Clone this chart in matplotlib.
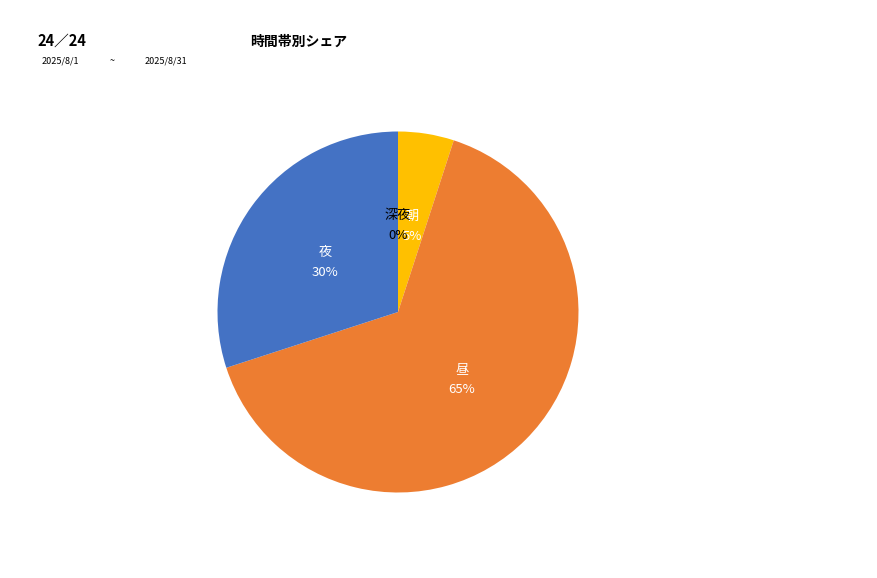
import matplotlib.pyplot as plt

plt.rcParams['font.family'] = ['Noto Sans CJK JP', 'DejaVu Sans']

# 時間帯別の割合
names = ['朝', '昼', '夜', '深夜']
shares = [5, 65, 30, 0]
colors = ['#FFC000', '#ED7D31', '#4472C4', '#A5A5A5']
text_colors = ['white', 'white', 'white', 'black']

fig = plt.figure(figsize=(8.77, 5.78), dpi=100)

# 見出し
fig.text(37 / 877, 1 - 41 / 578, '24／24', fontsize=10.5, fontweight='bold', va='center')
fig.text(250 / 877, 1 - 42 / 578, '時間帯別シェア', fontsize=10, fontweight='bold', va='center')
fig.text(42 / 877, 1 - 61 / 578, '2025/8/1', fontsize=6.5, va='center')
fig.text(110 / 877, 1 - 61 / 578, '~', fontsize=6.5, va='center')
fig.text(145 / 877, 1 - 61 / 578, '2025/8/31', fontsize=6.5, va='center')

cx, cy, r = 398, 312, 180.5
ax = fig.add_axes([(cx - r) / 877, (578 - cy - r) / 578, 2 * r / 877, 2 * r / 578])

labels = [f'{n}\n{s}%' for n, s in zip(names, shares)]
wedges, texts = ax.pie(shares, labels=labels, colors=colors, startangle=90,
                       counterclock=False, labeldistance=0.5,
                       textprops={'fontsize': 9.5, 'linespacing': 1.65})
for t, c in zip(texts, text_colors):
    t.set_ha('center')
    t.set_va('center')
    t.set_color(c)
    x, y = t.get_position()
    t.set_position((x, y - 0.02))

ax.set_xlim(-1, 1)
ax.set_ylim(-1, 1)

plt.savefig('out.png', dpi=100)
